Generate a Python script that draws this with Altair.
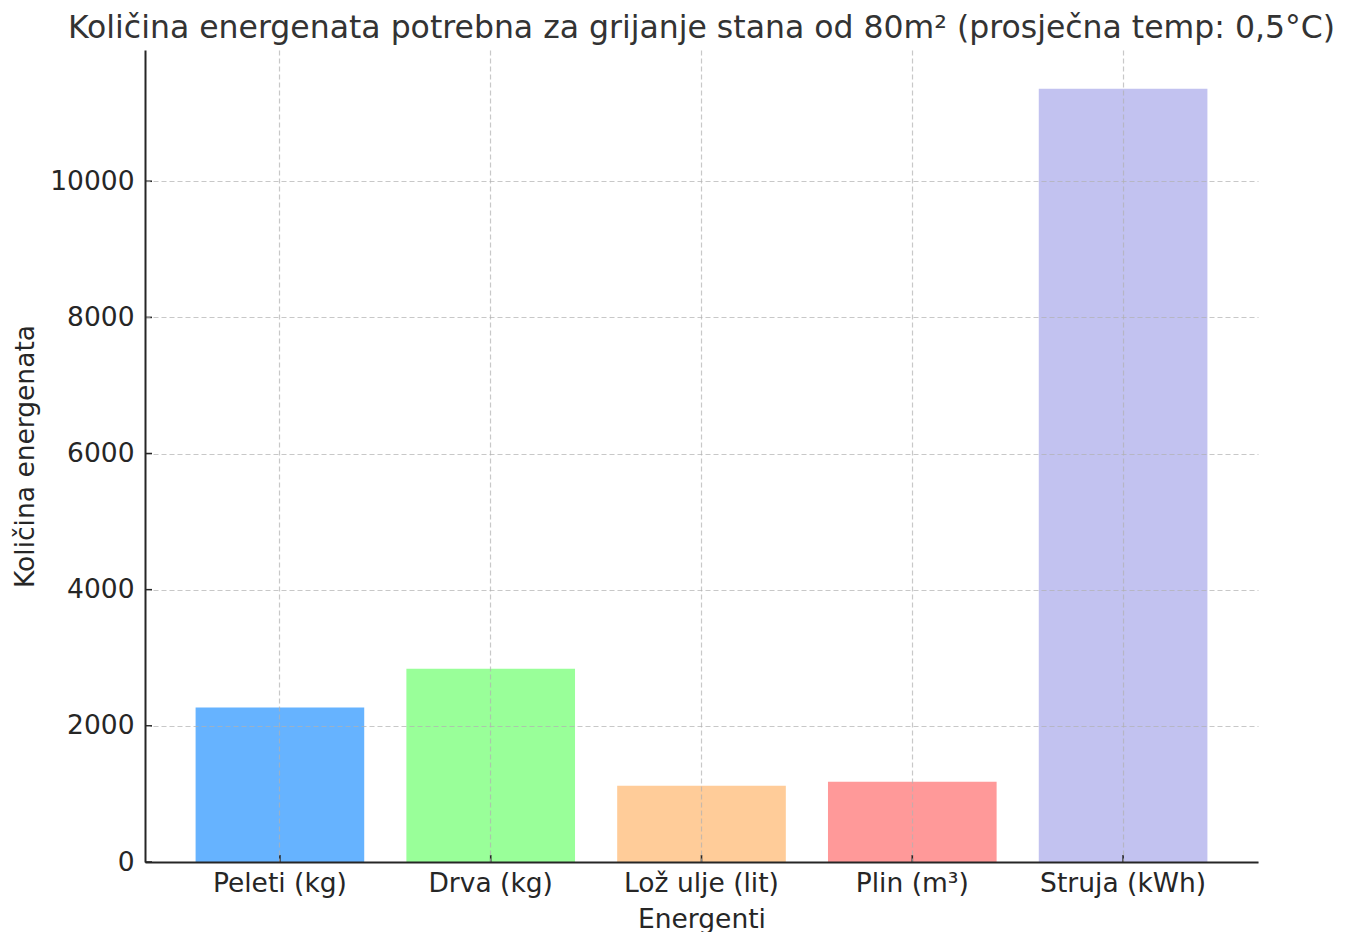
import altair as alt
import pandas as pd

categories = ["Peleti (kg)", "Drva (kg)", "Lož ulje (lit)", "Plin (m³)", "Struja (kWh)"]
values = [2270, 2840, 1120, 1180, 11360]
colors = ["#66b3ff", "#99ff99", "#ffcc99", "#ff9999", "#c2c2f0"]
y_ticks = [0, 2000, 4000, 6000, 8000, 10000]

df = pd.DataFrame({"Energent": categories, "Kolicina": values})
ticks_df = pd.DataFrame({"t": y_ticks})

FONT = "DejaVu Sans"
TXT = "#262626"
W, H = 1113, 812
ymax = max(values) * 1.05

xscale = alt.Scale(domain=categories, paddingInner=0.2, paddingOuter=0.24)
yscale = alt.Scale(domain=[0, ymax], nice=False, zero=True)

grid_kw = dict(grid=True, gridColor="#b0b0b0", gridOpacity=0.7, gridDash=[5, 3], gridWidth=1.2)

bars = alt.Chart(df).mark_bar().encode(
    x=alt.X("Energent:N", scale=xscale, sort=categories,
            axis=alt.Axis(title="Energenti", labelAngle=0, bandPosition=0.5, ticks=False, tickSize=0,
                          labelPadding=29, labelBaseline="alphabetic", labelFontSize=26.5,
                          labelFont=FONT, labelColor=TXT, titleFont=FONT, titleFontSize=26.5,
                          titleFontWeight="normal", titleColor=TXT, titleY=65, titleBaseline="alphabetic",
                          domainColor="#262626", domainWidth=2, zindex=1, **grid_kw)),
    y=alt.Y("Kolicina:Q", scale=yscale,
            axis=alt.Axis(title="Količina energenata", values=y_ticks, format="d", ticks=False, tickSize=0,
                          labelPadding=11, labelFontSize=26.5, labelFont=FONT, labelColor=TXT,
                          titleFont=FONT, titleFontSize=26.5, titleFontWeight="normal", titleColor=TXT,
                          titleAngle=-90, titleX=-112, titleY=H / 2, titleAlign="center",
                          titleBaseline="alphabetic", domainColor="#262626", domainWidth=2,
                          zindex=1, **grid_kw)),
    color=alt.Color("Energent:N", scale=alt.Scale(domain=categories, range=colors), legend=None),
)

xticks = alt.Chart(df).mark_rule(color="#262626", strokeWidth=1.6).encode(
    x=alt.X("Energent:N", scale=xscale, sort=categories),
    y=alt.value(H),
    y2=alt.value(H - 7),
)

yticks = alt.Chart(ticks_df).mark_rule(color="#262626", strokeWidth=1.6).encode(
    y=alt.Y("t:Q", scale=yscale),
    x=alt.value(0),
    x2=alt.value(7),
)

chart = alt.layer(bars, xticks, yticks).properties(
    width=W,
    height=H,
    title=alt.TitleParams(
        "Količina energenata potrebna za grijanje stana od 80m² (prosječna temp: 0,5°C)",
        font=FONT, fontSize=31.5, fontWeight="normal", color="#333333",
        anchor="middle", baseline="alphabetic", offset=13, dy=32,
    ),
    autosize=alt.AutoSizeParams(type="none"),
    padding={"left": 137, "top": 42, "right": 86, "bottom": 74},
).configure(background="white", view=alt.ViewConfig(stroke=None))

chart.save("out.html", embed_options={"renderer": "svg", "actions": False})
